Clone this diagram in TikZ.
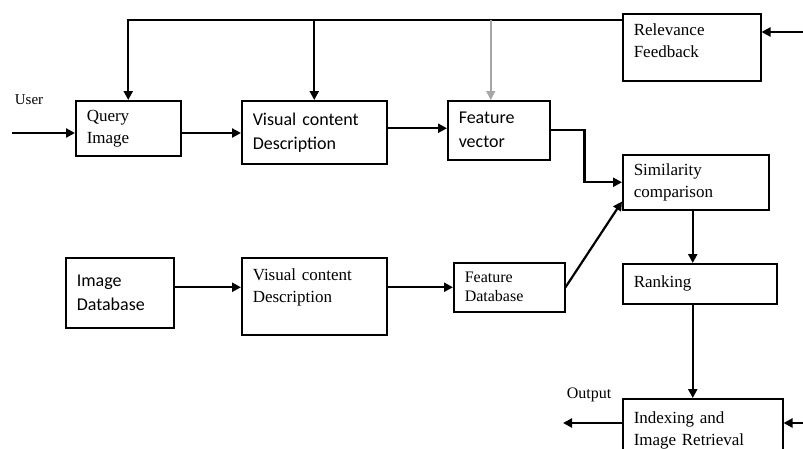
\documentclass[tikz,border=0pt]{standalone}
\usepackage{fontspec}
\setmainfont{Liberation Serif}
\newfontfamily\calib{Carlito}
\usetikzlibrary{arrows.meta,calc}

\begin{document}
\begin{tikzpicture}[x=1pt,y=-1pt,>={Triangle[length=9pt,width=9pt]}]
  \useasboundingbox (0,0) rectangle (803,448);
        \begin{scope}[every node/.style={draw,line width=1.5pt,anchor=north west,align=left,
            inner xsep=11pt,inner ysep=0pt,font=\fontsize{17}{22}\selectfont}]
          \node[minimum width=105pt,minimum height=55pt,text width=83pt] (qi) at (75,100) {Query\\Image};
          \node[minimum width=145pt,minimum height=63pt,text width=123pt,font=\calib\fontsize{18}{24}\selectfont] (vcdtop) at (241,100) {Visual content\\Description};
          \node[minimum width=102pt,minimum height=59pt,text width=80pt,font=\calib\fontsize{18}{24}\selectfont] (fv) at (447,100) {Feature\\vector};
          \node[minimum width=138pt,minimum height=67pt,text width=116pt] (rf) at (622,13) {Relevance\\Feedback\\[-8pt]\mbox{}};
          \node[minimum width=146pt,minimum height=55pt,text width=124pt] (sc) at (622,154) {Similarity\\comparison};
          \node[minimum width=108pt,minimum height=70pt,text width=86pt,font=\calib\fontsize{18}{24}\selectfont] (idb) at (65,257) {Image\\Database};
          \node[minimum width=145pt,minimum height=77pt,text width=123pt] (vcdbot) at (241,257) {Visual content\\Description\\\mbox{}};
          \node[minimum width=111pt,minimum height=49pt,text width=89pt,font=\fontsize{16}{19}\selectfont] (fdb) at (453,262) {Feature\\Database};
          \node[minimum width=154pt,minimum height=40pt,text width=132pt] (rk) at (622,263) {Ranking};
          \node[minimum width=160pt,minimum height=64pt,text width=138pt] (ir) at (622,398) {Indexing and\\Image Retrieval};
        \end{scope}
        \coordinate (user) at (12,133);
        \coordinate (fbtop) at (622,20);
        \coordinate (rfin) at (803,32);
        \coordinate (irin) at (803,423);
        \coordinate (out) at (563,423);
      \begin{scope}[line width=2.2pt]
        \draw[->] (user) -- (user -| qi.west);
        \draw[->] (qi.east |- user) -- (vcdtop.west |- user);
        \draw[->] ($(vcdtop.east)+(0,-4)$) -- ($(vcdtop.east -| fv.west)+(0,-4)$);
        \draw[->] (fbtop) -| (qi.north);
        \draw[->] (fbtop -| vcdtop.north) -- (vcdtop.north);
        \draw[->] (rfin) -- (rfin -| rf.east);
        \draw[->] (fv.east) -- ++(34,0) |- (sc.west);
        \draw[->] (idb.east |- fdb.west) -- (vcdbot.west |- fdb.west);
        \draw[->] (vcdbot.east |- fdb.west) -- (fdb.west);
        \draw[->] (fdb.east) -- ([yshift=9pt]sc.south west);
        \draw[->] ([xshift=-3pt]sc.south) -- ([xshift=-3pt]sc.south |- rk.north);
        \draw[->] ([xshift=-3pt]sc.south |- rk.south) -- ([xshift=-3pt]sc.south |- ir.north);
        \draw[->] (irin) -- (irin -| ir.east);
        \draw[->] (ir.west |- out) -- (out);
      \end{scope}
      \draw[->,line width=1.5pt,black!35] ([xshift=-8pt]fbtop -| fv.north) -- ([xshift=-8pt]fv.north);
      \node[font=\fontsize{15}{18}\selectfont] (userlbl) at (29,100) {User};
      \node[font=\fontsize{16}{18}\selectfont] (outlbl) at (589,395) {Output};
      \end{tikzpicture}
\end{document}
